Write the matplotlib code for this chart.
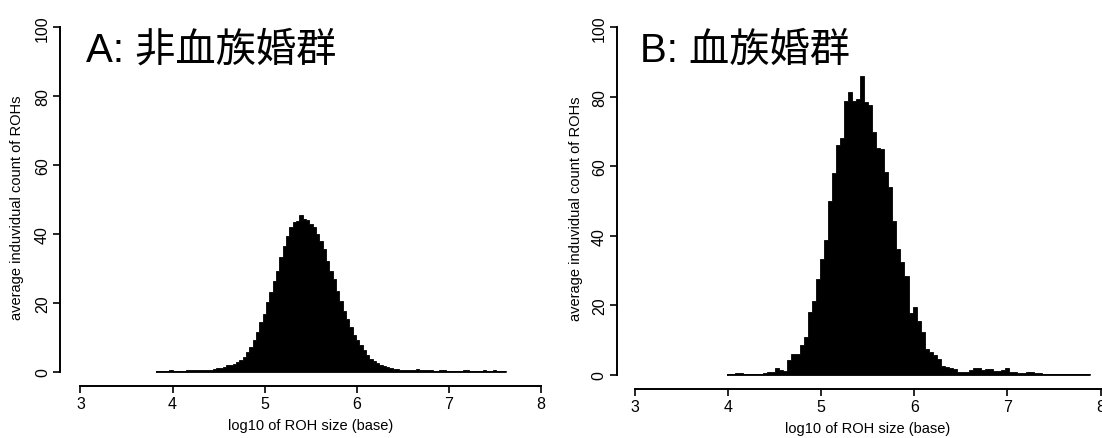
import matplotlib
matplotlib.use("Agg")
import matplotlib.pyplot as plt
import numpy as np

plt.rcParams['font.family'] = ['Liberation Sans', 'Noto Sans CJK JP', 'DejaVu Sans']

# --- data ---
# A: non-consanguineous group (fine bins)
left_start = 3.82
left_width = 0.0362
left_counts = [
    0.3, 0.3, 0.3, 0.3, 0.6, 0.3, 0.2, 0.3, 0.3, 0.5,
    0.5, 0.6, 0.5, 0.6, 0.6, 0.7, 0.7, 0.8, 1.1, 1.3,
    1.6, 1.9, 2.1, 2.4, 2.8, 3.6, 4.5, 5.8, 7.3, 9.3,
    11.7, 14.4, 16.8, 20.2, 23.1, 26.5, 29.4, 33.3, 36.6, 39.5,
    42.0, 43.4, 43.9, 45.5, 44.4, 44.2, 42.9, 42.0, 40.0, 38.1,
    35.7, 32.3, 29.4, 27.0, 23.6, 20.7, 17.8, 15.4, 13.0, 10.8,
    9.3, 7.8, 6.4, 5.0, 3.9, 3.1, 2.5, 2.1, 1.8, 1.4,
    1.1, 0.9, 0.8, 0.7, 0.6, 0.6, 0.6, 0.7, 0.8, 0.6,
    0.5, 0.5, 0.5, 0.4, 0.4, 0.5, 0.6, 0.4, 0.4, 0.4,
    0.3, 0.4, 0.5, 0.6, 0.4, 0.3, 0.3, 0.4, 0.5, 0.3,
    0.3, 0.5, 0.3, 0.2, 0.2,
]

# B: consanguineous group (coarser bins)
right_start = 3.99
right_width = 0.0433
right_counts = [
    0.3, 0.3, 0.5, 0.6, 0.4, 0.4, 0.4, 0.4, 0.4, 0.6,
    0.8, 0.8, 2.0, 1.5, 1.2, 4.3, 5.9, 5.9, 8.6, 10.8,
    18.0, 21.4, 27.6, 33.3, 38.8, 50.1, 58.0, 66.2, 68.3, 78.8,
    81.4, 78.8, 79.3, 86.0, 78.5, 77.6, 69.9, 65.4, 64.9, 58.4,
    54.2, 44.2, 36.2, 32.4, 28.5, 17.8, 19.5, 15.6, 12.4, 7.5,
    6.5, 5.7, 4.6, 2.5, 2.3, 1.9, 1.7, 1.0, 1.0, 1.0,
    1.3, 1.9, 1.9, 1.4, 1.7, 1.7, 1.2, 1.2, 1.5, 1.9,
    1.0, 1.0, 0.6, 0.6, 1.0, 1.0, 0.7, 0.5, 0.4, 0.4,
    0.4, 0.4, 0.3, 0.3, 0.3, 0.3, 0.3, 0.2, 0.2, 0.2,
]

titles = ['A: 非血族婚群', 'B: 血族婚群']
x_ticks = [3, 4, 5, 6, 7, 8]
y_ticks = [0, 20, 40, 60, 80, 100]
x_label = 'log10 of ROH size (base)'
y_label = 'average induvidual count of ROHs'

fig = plt.figure(figsize=(11.02, 4.39), dpi=100)
ax1 = fig.add_axes([0.0730, 0.1503, 0.4180, 0.7852])
ax2 = fig.add_axes([0.5759, 0.1435, 0.4229, 0.7920])


def draw_panel(ax, start, width, counts, title, left_off):
    counts = np.asarray(counts)
    edges = start + width * np.arange(len(counts) + 1)
    ax.stairs(counts, edges, fill=True, facecolor='black', edgecolor='black',
              linewidth=0.6, clip_on=False)
    ax.hlines(0, edges[0], edges[-1], color='black', linewidth=1.2, clip_on=False)

    ax.set_xlim(3, 8)
    ax.set_ylim(0, 100)

    # R-style detached axes
    for s in ['top', 'right']:
        ax.spines[s].set_visible(False)
    ax.spines['left'].set_position(('outward', left_off))
    ax.spines['bottom'].set_position(('outward', 10))
    ax.spines['left'].set_bounds(0, 100)
    ax.spines['bottom'].set_bounds(3, 8)
    ax.spines['left'].set_linewidth(1.4)
    ax.spines['bottom'].set_linewidth(1.4)

    ax.set_xticks(x_ticks)
    ax.set_yticks(y_ticks)
    ax.tick_params(direction='out', length=5, width=1.2, labelsize=11.5, pad=2)
    ax.tick_params(axis='y', labelrotation=90)
    for lab in ax.get_yticklabels():
        lab.set_va('center')

    ax.set_xlabel(x_label, fontsize=10.5, labelpad=5)
    ax.set_ylabel(y_label, fontsize=10.5)
    ax.text(3.06, 90.3, title, fontsize=29, ha='left', va='baseline')


draw_panel(ax1, left_start, left_width, left_counts, titles[0], 15)
draw_panel(ax2, right_start, right_width, right_counts, titles[1], 13)

ax1.yaxis.set_label_coords(-0.122, 0.48)
ax2.yaxis.set_label_coords(-0.111, 0.48)

fig.savefig('out.png', dpi=100)
